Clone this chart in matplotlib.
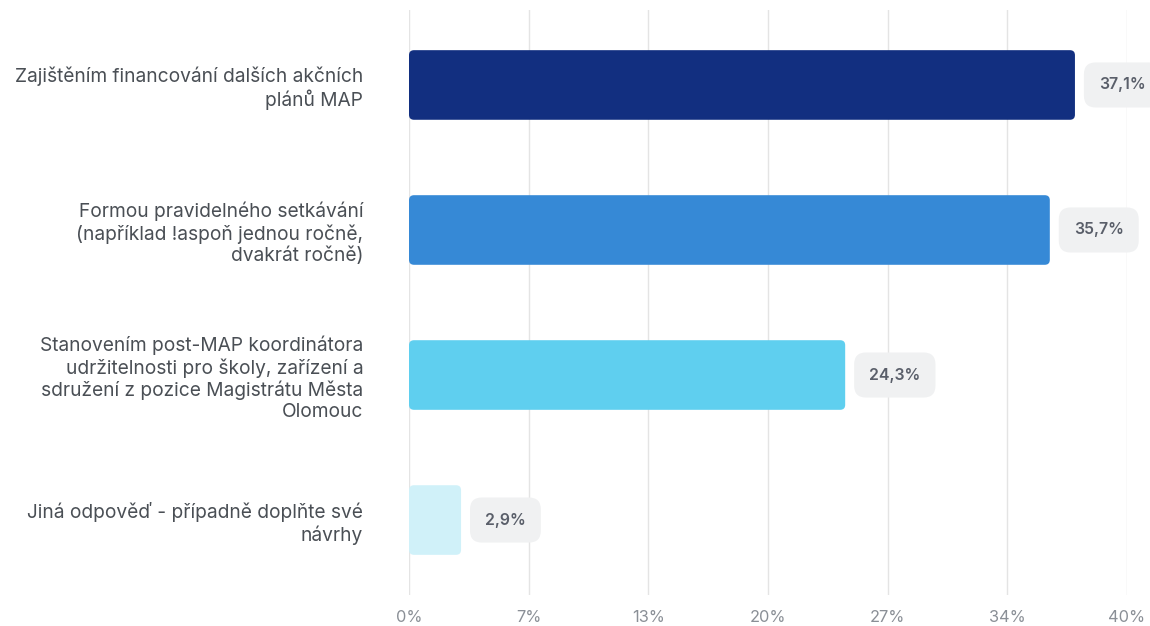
import matplotlib
matplotlib.use("Agg")
import matplotlib.pyplot as plt
from matplotlib.patches import FancyBboxPatch

plt.rcParams["font.family"] = ["Inter", "DejaVu Sans"]

categories = [
    "Zajištěním financování dalších akčních\nplánů MAP",
    "Formou pravidelného setkávání\n(například !aspoň jednou ročně,\ndvakrát ročně)",
    "Stanovením post-MAP koordinátora\nudržitelnosti pro školy, zařízení a\nsdružení z pozice Magistrátu Města\nOlomouc",
    "Jiná odpověď - případně doplňte své\nnávrhy",
]
values = [37.1, 35.7, 24.3, 2.9]
value_labels = ["37,1%", "35,7%", "24,3%", "2,9%"]
colors = ["#122f80", "#3689d6", "#5fcfef", "#d0f1f9"]
tick_values = [0, 40 / 6, 80 / 6, 20, 160 / 6, 200 / 6, 40]
tick_labels = ["0%", "7%", "13%", "20%", "27%", "34%", "40%"]

W, H = 1150, 626
fig = plt.figure(figsize=(W / 100, H / 100), dpi=100)
left, right, top, bottom = 409, 1127, 10, 595
ax = fig.add_axes([left / W, 1 - bottom / H, (right - left) / W, (bottom - top) / H])

xmax = 40
ax.set_xlim(0, xmax)
ax.set_ylim(3.517, -0.517)

px_x = (right - left) / xmax
px_y = (bottom - top) / 4.034
bar_h = 0.48
r_px = 5
for i, (v, c) in enumerate(zip(values, colors)):
    patch = FancyBboxPatch((0, i - bar_h / 2), v, bar_h,
                           boxstyle="round,pad=0,rounding_size=%f" % (r_px / px_x),
                           mutation_aspect=px_x / px_y,
                           fc=c, ec="none", zorder=3)
    ax.add_patch(patch)
    ax.annotate(value_labels[i], xy=(v, i), xytext=(24 * 0.72, 0),
                textcoords="offset points", ha="left", va="center",
                fontsize=11.4, fontweight="semibold", color="#5a5f6a", zorder=4,
                bbox=dict(boxstyle="round,pad=0.95,rounding_size=0.75",
                          fc="#f0f1f2", ec="none"),
                annotation_clip=False)

ax.set_xticks(tick_values)
ax.set_xticklabels(tick_labels, fontsize=11.8, color="#8a8f96")
ax.set_yticks(range(len(categories)))
ax.set_yticklabels(categories, fontsize=13.8, color="#4a4f55", linespacing=1.2)
ax.tick_params(axis="both", length=0)
ax.tick_params(axis="x", pad=11)
ax.tick_params(axis="y", pad=33)

ax.grid(axis="x", color="#e4e4e4", linewidth=1, zorder=0)
ax.axvline(0, color="#d3d8ea", linewidth=1.2, zorder=1)
for s in ax.spines.values():
    s.set_visible(False)

fig.savefig("out.png", dpi=100)
